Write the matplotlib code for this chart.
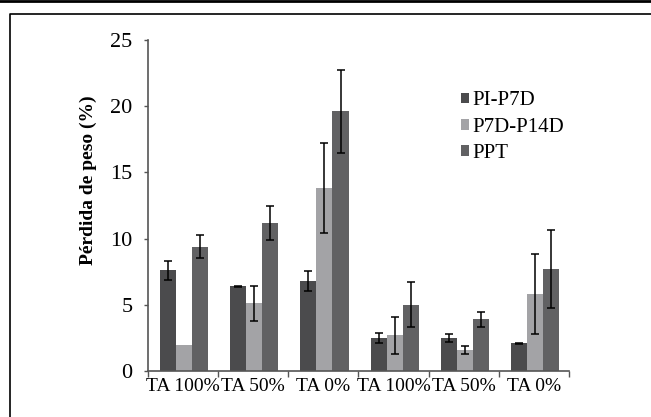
import matplotlib
matplotlib.use("Agg")
import matplotlib.pyplot as plt
import numpy as np
from matplotlib.lines import Line2D

categories = ["TA 100%", "TA 50%", "TA 0%", "TA 100%", "TA 50%", "TA 0%"]
series_names = ["PI-P7D", "P7D-P14D", "PPT"]
pi_p7d = [7.6, 6.4, 6.8, 2.5, 2.5, 2.1]
pi_p7d_err = [0.7, 0.05, 0.75, 0.35, 0.3, 0.03]
p7d_p14d = [2.0, 5.1, 13.8, 2.7, 1.6, 5.8]
p7d_p14d_err = [0.0, 1.3, 3.4, 1.4, 0.3, 3.0]
ppt = [9.4, 11.2, 19.6, 5.0, 3.9, 7.7]
ppt_err = [0.9, 1.3, 3.15, 1.7, 0.55, 2.95]

colors = ["#4b4b4d", "#a3a3a6", "#616163"]

plt.rcParams['font.family'] = ['Liberation Serif', 'DejaVu Serif']

fig = plt.figure(figsize=(6.51, 4.17), dpi=100)
ax = fig.add_axes([148/651, 1-371/417, (569-148)/651, (371-40)/417])

x = np.arange(len(categories))
w = 0.2286
vals = [pi_p7d, p7d_p14d, ppt]
errs = [pi_p7d_err, p7d_p14d_err, ppt_err]
for i, (v, e, c, n) in enumerate(zip(vals, errs, colors, series_names)):
    e_plot = [ee if ee > 0 else np.nan for ee in e]
    ax.bar(x + (i - 1) * w + 0.015, v, width=w, color=c, label=n, zorder=2)
    ax.errorbar(x + (i - 1) * w + 0.015, v, yerr=e_plot, fmt='none', ecolor='black',
                elinewidth=1.1, capsize=2.8, capthick=1.1, zorder=3)

ax.set_xlim(-0.5, len(categories) - 0.5)
ax.set_ylim(0, 25)
ax.set_yticks([0, 5, 10, 15, 20, 25])
ax.set_xticks(x)
ax.set_xticklabels(categories)
ax.set_xticks(np.arange(-0.5, len(categories)), minor=True)
ax.tick_params(axis='x', which='major', length=0, pad=5, labelsize=14)
ax.tick_params(axis='x', which='minor', length=4, width=1, color='#555555', direction='out')
ax.tick_params(axis='y', length=3, width=1, color='#555555', labelsize=16, pad=8)
for s in ['top', 'right']:
    ax.spines[s].set_visible(False)
for s in ['left', 'bottom']:
    ax.spines[s].set_color('#555555')
    ax.spines[s].set_linewidth(1.2)

ax.set_ylabel("Pérdida de peso (%)", fontsize=14, fontweight='bold')
ax.yaxis.set_label_coords(-0.121, 0.577)

ax.legend(loc='upper left', bbox_to_anchor=(0.723, 0.87), frameon=False, fontsize=15,
          handlelength=0.42, handleheight=0.42, handletextpad=0.15, labelspacing=0.35,
          borderaxespad=0)

# frame lines
fig.add_artist(Line2D([0, 1], [1 - 1/417, 1 - 1/417], transform=fig.transFigure, color='black', lw=2))
fig.add_artist(Line2D([10/651, 10/651, 1], [0, 1 - 14/417, 1 - 14/417], transform=fig.transFigure, color='black', lw=1.2))

fig.savefig("out.png", dpi=100)
